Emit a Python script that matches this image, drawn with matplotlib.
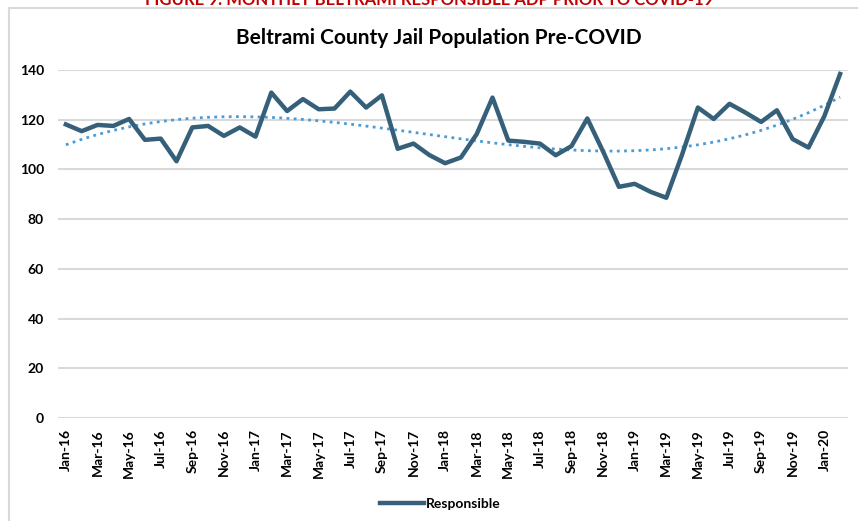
import numpy as np
import matplotlib.pyplot as plt
from matplotlib.patches import Rectangle

plt.rcParams["font.family"] = ["Lato", "DejaVu Sans"]

# -----------------------------------
# Data
# -----------------------------------

months = ["Jan", "Feb", "Mar", "Apr", "May", "Jun",
          "Jul", "Aug", "Sep", "Oct", "Nov", "Dec"]
years = ["16", "17", "18", "19", "20"]
labels = [f"{m}-{y}" for y in years for m in months][:50]

responsible = [
    118.1, 115.4, 117.9, 117.5, 120.3, 111.9, 112.4, 103.3, 116.9, 117.5, 113.5, 116.9,
    113.2, 130.9, 123.5, 128.3, 124.2, 124.5, 131.3, 124.9, 129.8, 108.3, 110.4, 105.8,
    102.5, 104.8, 114.2, 128.9, 111.6, 111.1, 110.4, 105.7, 109.4, 120.5, 107.2, 93.0,
    94.2, 91.0, 88.6, 106.0, 124.9, 120.3, 126.4, 122.9, 119.1, 123.8, 112.2, 108.8,
    121.4, 138.4,
]

x = np.arange(len(responsible))

# Excel-style polynomial trendline
coef = np.polyfit(x, responsible, 3)
trend = np.polyval(coef, x)

# -----------------------------------
# Plot
# -----------------------------------

fig = plt.figure(figsize=(8.58, 5.21), dpi=100)
ax = fig.add_axes([58 / 858, 1 - 418 / 521, 790 / 858, 348 / 521])

# chart frame
fig.patches.append(Rectangle((9 / 858, -0.05), 1.0, 1 - 8 / 521 + 0.05,
                             transform=fig.transFigure, fill=False,
                             edgecolor="#D9D9D9", linewidth=1.5))

# clipped report caption at the very top
fig.text(0.5, 1.0, "FIGURE 9: MONTHLY BELTRAMI RESPONSIBLE ADP PRIOR TO COVID-19",
         ha="center", va="center", color="#C00000", fontsize=12, fontweight="bold")

ax.plot(x, responsible, color="#36607A", linewidth=3.2, label="Responsible",
        solid_joinstyle="round", zorder=3)
ax.plot(x, trend, color="#4A9BD8", linewidth=2.0, linestyle=(0, (1, 1.6)),
        zorder=2)

ax.set_xlim(-0.5, len(responsible) - 0.5)
ax.set_ylim(0, 140)
ax.set_yticks(range(0, 141, 20))
ax.set_xticks(x[::2])
ax.set_xticklabels(labels[::2], rotation=90)

ax.grid(axis="y", color="#D9D9D9", linewidth=1.5)
ax.set_axisbelow(True)
for spine in ax.spines.values():
    spine.set_visible(False)

ax.tick_params(axis="both", length=0, labelsize=10, pad=8)
ax.tick_params(axis="y", pad=10)
for t in ax.get_xticklabels() + ax.get_yticklabels():
    t.set_fontweight("bold")

fig.text(439 / 858, 1 - 38 / 521, "Beltrami County Jail Population Pre-COVID",
         ha="center", va="center", fontsize=15, fontweight="bold")

ax.legend(loc="center", bbox_to_anchor=(440 / 858, 1 - 504 / 521),
          bbox_transform=fig.transFigure, frameon=False, fontsize=10,
          handlelength=3.2, handletextpad=0.1, prop={"weight": "bold", "size": 10})

fig.savefig("out.png", dpi=100)
